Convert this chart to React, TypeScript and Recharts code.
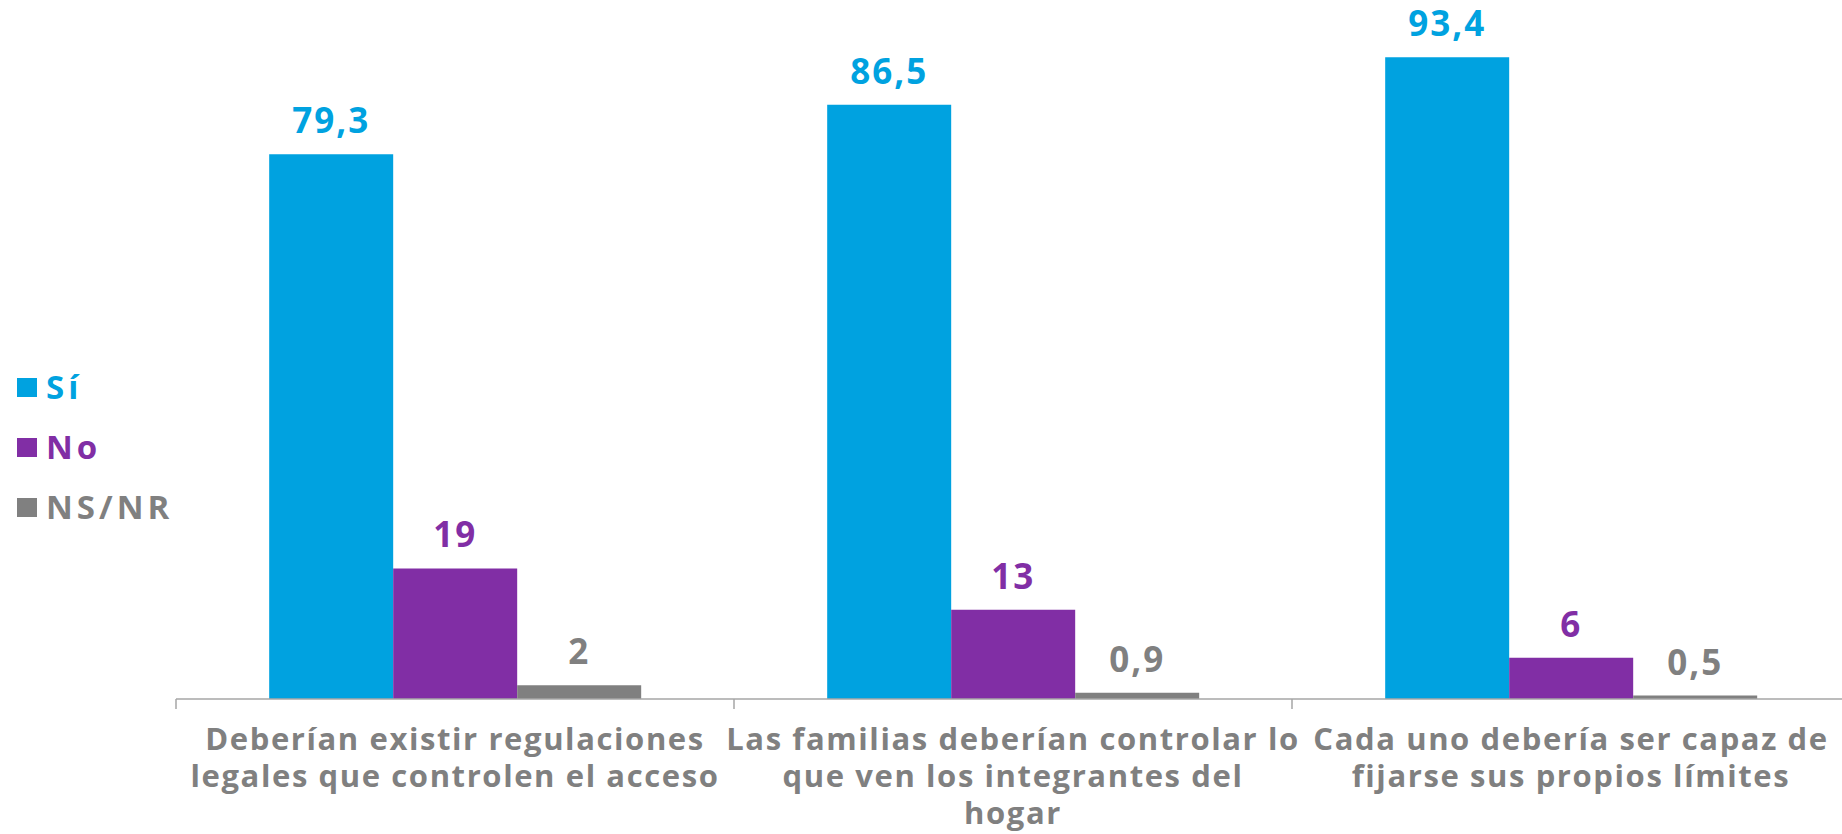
import React from 'react';
import { BarChart, Bar, XAxis, YAxis, Legend, LabelList } from 'recharts';

const categories = [
    'Deberían existir regulaciones\nlegales que controlen el acceso',
    'Las familias deberían controlar lo\nque ven los integrantes del\nhogar',
    'Cada uno debería ser capaz de\nfijarse sus propios límites',
];
const siValues = [79.3, 86.5, 93.4];
const noValues = [19, 13, 6];
const nsValues = [2, 0.9, 0.5];

const seriesNames = ['Sí', 'No', 'NS/NR'];
const seriesColors = ['#00A2E0', '#812EA5', '#808080'];

const data = categories.map((name, i) => ({
    name,
    si: siValues[i],
    no: noValues[i],
    ns: nsValues[i],
}));

const CHART_W = 1850;
const CHART_H = 834;
const MARGIN = { top: 12, right: 0, bottom: 0, left: 176 };
const FONT = '"Open Sans", sans-serif';
const AXIS_GRAY = '#A6A6A6';
const TEXT_GRAY = '#808080';

const fmt = (v: any) => String(v).replace('.', ',');

function CategoryTick(props: any) {
    const { x, y, payload } = props;
    const lines = String(payload.value).split('\n');
    const half = payload.offset ?? (CHART_W - MARGIN.left - MARGIN.right) / categories.length / 2;
    return (
        <g>
            <line x1={x - half} x2={x - half} y1={y} y2={y + 10} stroke={AXIS_GRAY} strokeWidth={1.5} />
            <text
                x={x}
                y={y}
                textAnchor="middle"
                fill={TEXT_GRAY}
                fontFamily={FONT}
                fontWeight={700}
                fontSize={31}
                style={{ letterSpacing: '1.6px' }}
            >
                {lines.map((line, i) => (
                    <tspan key={i} x={x} y={y + 51 + i * 37}>
                        {line}
                    </tspan>
                ))}
            </text>
        </g>
    );
}

function LegendBox(props: any) {
    const items = [...(props.payload || [])].sort(
        (a: any, b: any) => seriesNames.indexOf(a.value) - seriesNames.indexOf(b.value)
    );
    return (
        <div style={{ fontFamily: FONT }}>
            {items.map((entry: any, i: number) => (
                <div key={i} style={{ height: 60, display: 'flex', alignItems: 'center' }}>
                    <span style={{ width: 20, height: 19, background: entry.color, marginRight: 9, display: 'inline-block' }} />
                    <span style={{ color: entry.color, fontSize: 33, fontWeight: 700, letterSpacing: '4px', lineHeight: '40px' }}>
                        {entry.value}
                    </span>
                </div>
            ))}
        </div>
    );
}

export default function App() {
    const keys = ['si', 'no', 'ns'];
    return (
        <div style={{ position: 'fixed', left: 0, top: 0, width: 1842, height: 834, overflow: 'hidden', background: '#fff' }}>
            <BarChart width={CHART_W} height={CHART_H} data={data} margin={MARGIN} barCategoryGap="16.7%" barGap={0}>
                <XAxis
                    dataKey="name"
                    height={135}
                    interval={0}
                    axisLine={{ stroke: AXIS_GRAY, strokeWidth: 1.5 }}
                    tickLine={false}
                    tickSize={0}
                    tickMargin={0}
                    tick={<CategoryTick />}
                />
                <YAxis hide domain={[0, 100]} />
                <Legend
                    layout="vertical"
                    align="center"
                    verticalAlign="middle"
                    content={<LegendBox />}
                    wrapperStyle={{ left: 17, top: 357, width: 200 }}
                />
                {keys.map((k, i) => (
                    <Bar key={k} dataKey={k} name={seriesNames[i]} fill={seriesColors[i]} isAnimationActive={false}>
                        <LabelList
                            dataKey={k}
                            position="top"
                            offset={21}
                            formatter={fmt}
                            fill={seriesColors[i]}
                            fontFamily={FONT}
                            fontWeight={700}
                            fontSize={35}
                            style={{ letterSpacing: '2px' }}
                        />
                    </Bar>
                ))}
            </BarChart>
        </div>
    );
}
